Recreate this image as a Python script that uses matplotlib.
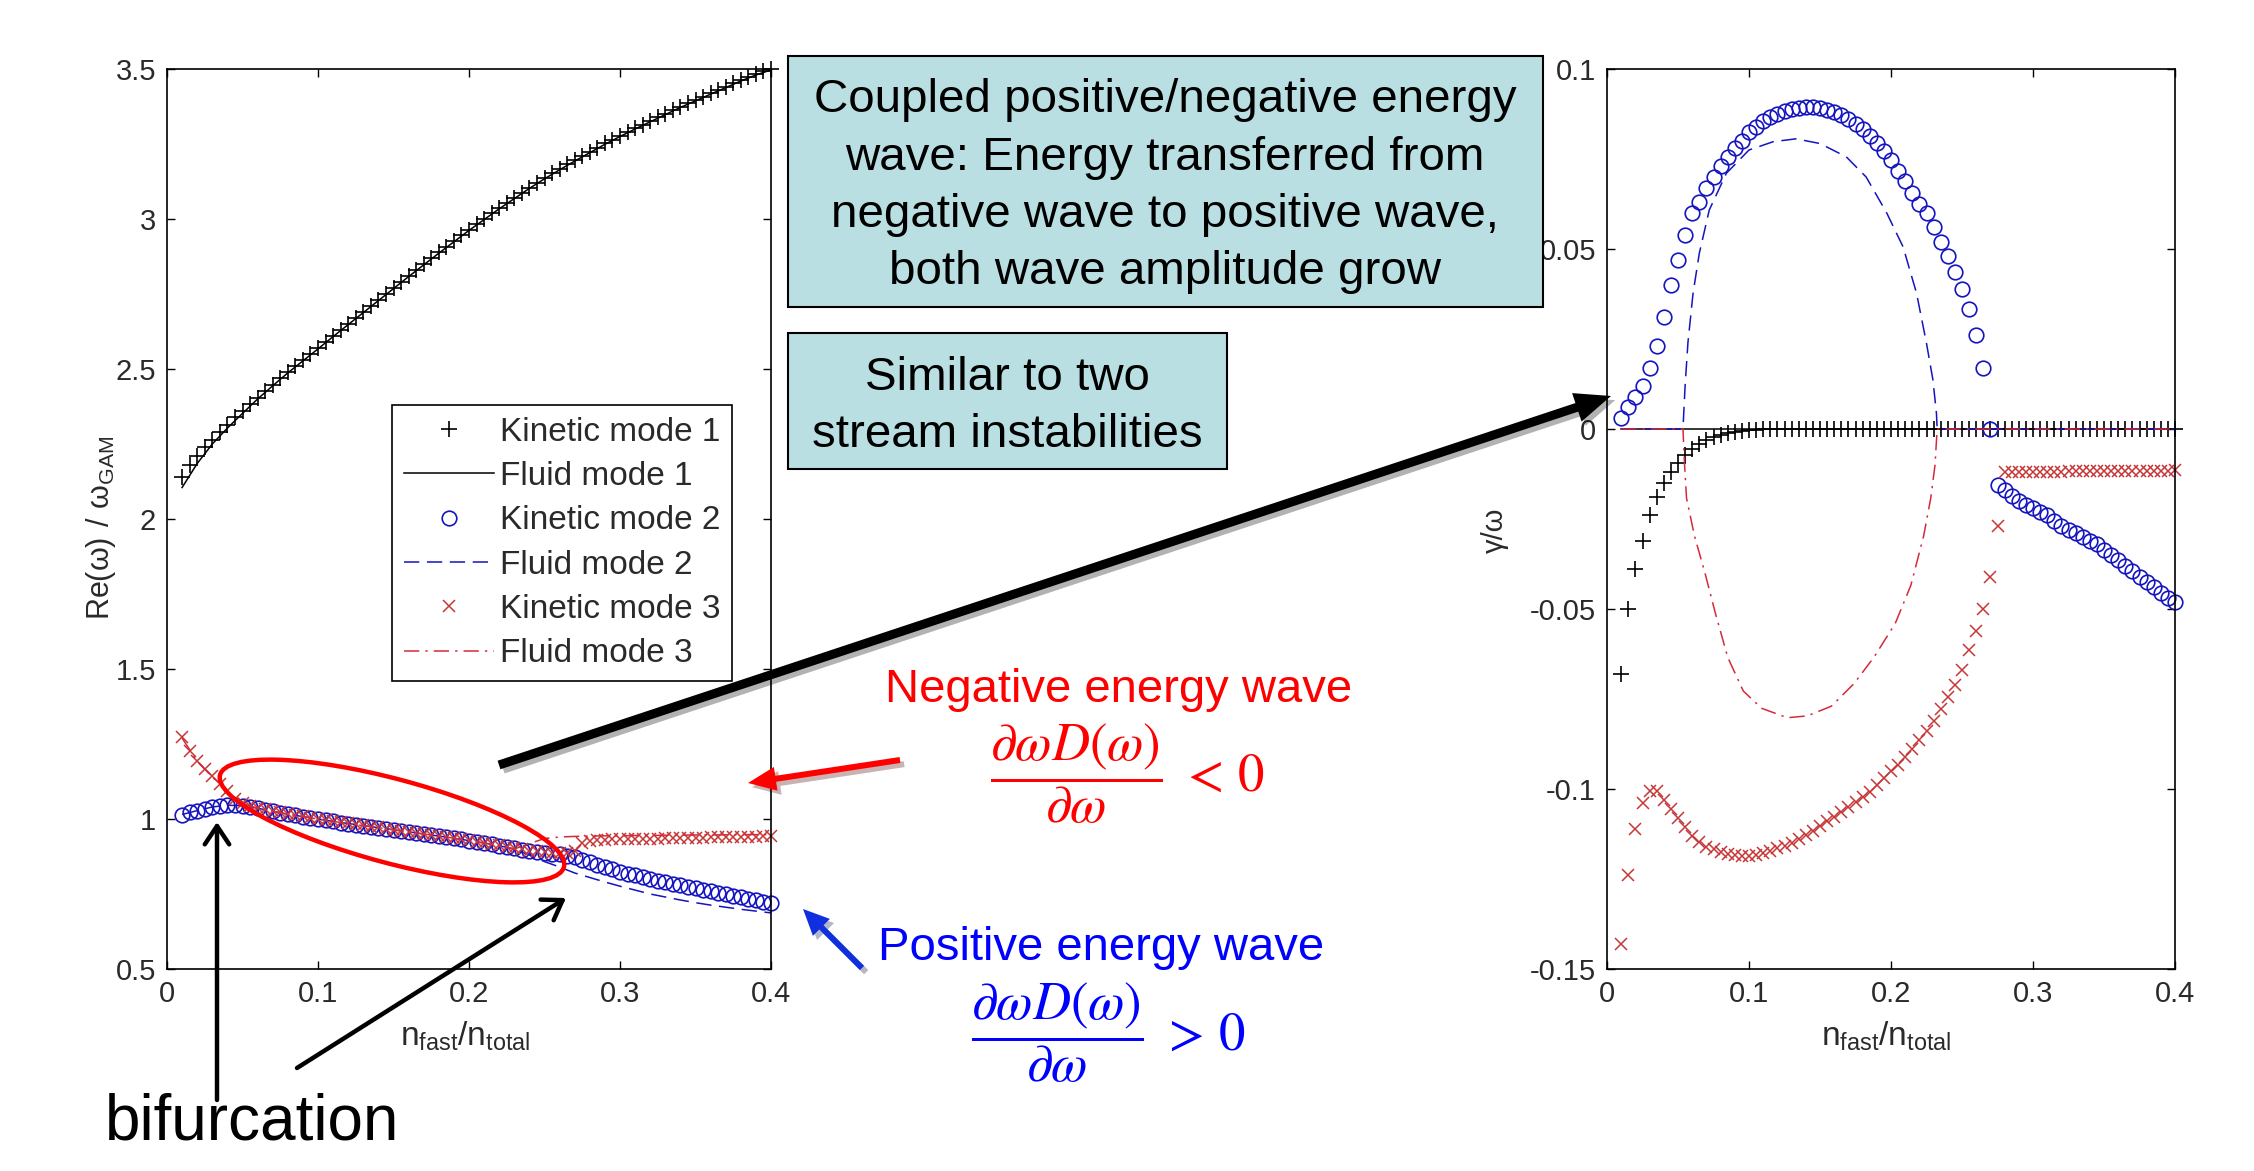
import numpy as np
import matplotlib
matplotlib.use('Agg')
import matplotlib.pyplot as plt
import matplotlib.patheffects as pe
from matplotlib.patches import Ellipse, Rectangle, FancyArrow

W, H, DPI = 2254, 1171, 100

# scan in fast-particle density fraction
frac_kin = np.round(np.arange(0.01, 0.4001, 0.005), 3)
frac_fluid = np.round(np.arange(0.01, 0.4001, 0.01), 2)

# ---- real frequency Re(w)/w_GAM ----
re_kin1 = [2.140, 2.180, 2.210, 2.240, 2.265, 2.290, 2.315, 2.340, 2.360, 2.382,
           2.404, 2.426, 2.448, 2.469, 2.490, 2.510, 2.530, 2.550, 2.570, 2.590,
           2.611, 2.631, 2.651, 2.671, 2.691, 2.711, 2.731, 2.751, 2.771, 2.791,
           2.811, 2.830, 2.850, 2.869, 2.889, 2.908, 2.927, 2.946, 2.965, 2.983,
           3.001, 3.019, 3.037, 3.054, 3.071, 3.088, 3.105, 3.121, 3.137, 3.152,
           3.167, 3.182, 3.196, 3.210, 3.224, 3.238, 3.252, 3.265, 3.278, 3.291,
           3.303, 3.315, 3.327, 3.339, 3.351, 3.363, 3.375, 3.386, 3.397, 3.408,
           3.419, 3.430, 3.441, 3.452, 3.463, 3.473, 3.483, 3.492, 3.500]
re_kin2 = [1.015, 1.022, 1.028, 1.034, 1.040, 1.045, 1.048, 1.047, 1.044, 1.040,
           1.036, 1.031, 1.026, 1.021, 1.016, 1.012, 1.008, 1.004, 1.000, 0.996,
           0.992, 0.988, 0.985, 0.981, 0.978, 0.974, 0.971, 0.967, 0.964, 0.960,
           0.957, 0.953, 0.950, 0.946, 0.943, 0.939, 0.936, 0.932, 0.928, 0.924,
           0.920, 0.916, 0.911, 0.907, 0.902, 0.898, 0.894, 0.891, 0.888, 0.885,
           0.882, 0.878, 0.872, 0.864, 0.856, 0.848, 0.840, 0.832, 0.825, 0.818,
           0.812, 0.806, 0.800, 0.795, 0.789, 0.784, 0.779, 0.774, 0.769, 0.764,
           0.759, 0.754, 0.749, 0.744, 0.739, 0.734, 0.729, 0.724, 0.719]
re_kin3 = [1.275, 1.228, 1.195, 1.168, 1.142, 1.116, 1.092, 1.068, 1.052, 1.042,
           1.037, 1.032, 1.027, 1.022, 1.017, 1.013, 1.009, 1.005, 1.001, 0.997,
           0.993, 0.989, 0.986, 0.982, 0.979, 0.975, 0.972, 0.968, 0.965, 0.961,
           0.958, 0.954, 0.951, 0.947, 0.944, 0.940, 0.937, 0.933, 0.929, 0.925,
           0.921, 0.917, 0.912, 0.908, 0.903, 0.899, 0.895, 0.892, 0.889, 0.887,
           0.886, 0.888, 0.895, 0.920, 0.928, 0.930, 0.931, 0.932, 0.933, 0.933,
           0.934, 0.934, 0.935, 0.935, 0.936, 0.936, 0.937, 0.937, 0.938, 0.938,
           0.939, 0.939, 0.940, 0.940, 0.940, 0.941, 0.941, 0.942, 0.942]

re_fluid1 = [2.105, 2.185, 2.250, 2.303, 2.352, 2.400, 2.444, 2.487, 2.527, 2.567,
             2.608, 2.648, 2.688, 2.728, 2.768, 2.808, 2.847, 2.886, 2.924, 2.962,
             2.998, 3.034, 3.068, 3.102, 3.134, 3.164, 3.193, 3.221, 3.249, 3.275,
             3.300, 3.324, 3.348, 3.372, 3.394, 3.416, 3.438, 3.460, 3.480, 3.497]
re_fluid2 = [1.015, 1.028, 1.040, 1.046, 1.044, 1.036, 1.026, 1.016, 1.008, 1.000,
             0.992, 0.985, 0.978, 0.971, 0.964, 0.957, 0.950, 0.943, 0.936, 0.928,
             0.920, 0.911, 0.900, 0.880, 0.858, 0.840, 0.820, 0.805, 0.790, 0.776,
             0.763, 0.750, 0.740, 0.730, 0.721, 0.713, 0.706, 0.699, 0.693, 0.687]
re_fluid3 = [1.270, 1.192, 1.140, 1.090, 1.052, 1.036, 1.026, 1.016, 1.008, 1.000,
             0.992, 0.985, 0.978, 0.971, 0.964, 0.957, 0.950, 0.943, 0.936, 0.928,
             0.920, 0.911, 0.900, 0.918, 0.935, 0.940, 0.942, 0.943, 0.944, 0.944,
             0.945, 0.945, 0.946, 0.946, 0.947, 0.947, 0.947, 0.948, 0.948, 0.948]

# ---- growth rate gamma/w ----
gam_kin1 = [-0.068, -0.050, -0.039, -0.031, -0.024, -0.019, -0.015, -0.012, -0.0095, -0.0073,
            -0.0056, -0.0042, -0.0031, -0.0023, -0.0017, -0.0012, -0.0008, -0.0005, -0.0003, -0.0002,
            -0.0001, 0.0, 0.0, 0.0, 0.0, 0.0, 0.0, 0.0, 0.0, 0.0,
            0.0, 0.0, 0.0, 0.0, 0.0, 0.0, 0.0, 0.0, 0.0, 0.0,
            0.0, 0.0, 0.0, 0.0, 0.0, 0.0, 0.0, 0.0, 0.0, 0.0,
            0.0, 0.0, 0.0, 0.0, 0.0, 0.0, 0.0, 0.0, 0.0, 0.0,
            0.0, 0.0, 0.0, 0.0, 0.0, 0.0, 0.0, 0.0, 0.0, 0.0,
            0.0, 0.0, 0.0, 0.0, 0.0, 0.0, 0.0, 0.0, 0.0]
gam_kin2 = [0.003, 0.006, 0.009, 0.012, 0.017, 0.023, 0.031, 0.040, 0.047, 0.054,
            0.060, 0.063, 0.067, 0.070, 0.073, 0.0755, 0.078, 0.080, 0.0825, 0.084,
            0.0855, 0.0866, 0.0875, 0.0883, 0.0889, 0.0893, 0.0895, 0.0895, 0.0892, 0.0887,
            0.0880, 0.0871, 0.0860, 0.0847, 0.0832, 0.0815, 0.0795, 0.0773, 0.0748, 0.0718,
            0.0690, 0.0655, 0.0625, 0.0600, 0.0560, 0.0520, 0.0480, 0.0437, 0.0390, 0.0333,
            0.026, 0.017, 0.0, -0.0155, -0.017, -0.0185, -0.020, -0.021, -0.022, -0.023,
            -0.024, -0.0255, -0.027, -0.028, -0.029, -0.030, -0.031, -0.032, -0.0335, -0.035,
            -0.0365, -0.038, -0.0395, -0.041, -0.0425, -0.044, -0.0455, -0.047, -0.048]
gam_kin3 = [-0.143, -0.124, -0.111, -0.104, -0.1005, -0.1005, -0.103, -0.1055, -0.108, -0.1105,
            -0.113, -0.1148, -0.116, -0.1168, -0.1175, -0.118, -0.1183, -0.1185, -0.1185, -0.1183,
            -0.1178, -0.1172, -0.1165, -0.1158, -0.115, -0.114, -0.1128, -0.1116, -0.1103, -0.109,
            -0.1077, -0.1065, -0.105, -0.1037, -0.1022, -0.1008, -0.099, -0.097, -0.095, -0.0932,
            -0.091, -0.0888, -0.0865, -0.0838, -0.081, -0.0778, -0.0745, -0.071, -0.067, -0.0615,
            -0.056, -0.050, -0.041, -0.027, -0.012, -0.012, -0.012, -0.012, -0.012, -0.012,
            -0.0119, -0.0119, -0.0119, -0.0118, -0.0118, -0.0118, -0.0118, -0.0117, -0.0117, -0.0117,
            -0.0117, -0.0117, -0.0116, -0.0116, -0.0116, -0.0116, -0.0116, -0.0116, -0.0115]

gam_fluid1_x = [0.01, 0.40]
gam_fluid1 = [0.0, 0.0]
gam_fluid2_x = [0.010, 0.0535, 0.055, 0.057, 0.0606, 0.065, 0.072, 0.084, 0.100, 0.117, 0.133,
                0.150, 0.1685, 0.1825, 0.197, 0.2085, 0.218, 0.225, 0.2295, 0.232, 0.2325, 0.400]
gam_fluid2 = [0.0, 0.0, 0.012, 0.024, 0.0377, 0.0488, 0.0608, 0.071, 0.0775, 0.0798, 0.0806,
              0.0793, 0.0756, 0.070, 0.060, 0.0506, 0.0377, 0.0238, 0.0137, 0.0044, 0.0, 0.0]
gam_fluid3_x = [0.010, 0.0535, 0.0545, 0.056, 0.0616, 0.069, 0.076, 0.085, 0.096, 0.109, 0.127,
                0.141, 0.158, 0.174, 0.188, 0.203, 0.214, 0.223, 0.228, 0.231, 0.2325, 0.400]
gam_fluid3 = [0.0, 0.0, -0.009, -0.0192, -0.0297, -0.040, -0.0507, -0.0634, -0.0728, -0.0776, -0.0802,
              -0.0797, -0.077, -0.0707, -0.0634, -0.054, -0.0434, -0.0297, -0.0192, -0.010, 0.0, 0.0]

legend_labels = ['Kinetic mode 1', 'Fluid mode 1', 'Kinetic mode 2',
                 'Fluid mode 2', 'Kinetic mode 3', 'Fluid mode 3']

plt.rcParams['font.family'] = ['Liberation Sans', 'DejaVu Sans']

BLUE = '#1414C0'
RED = '#C83737'
RED_LINE = '#D42A3C'
TICK_COL = '#2a2a2a'

k1_style = dict(ls='none', marker='+', color='k', ms=11, mew=1.2, clip_on=False)
k2_style = dict(ls='none', marker='o', mfc='none', mec=BLUE, color=BLUE, ms=10.5, mew=1.2, clip_on=False)
k3_style = dict(ls='none', marker='x', color=RED, ms=8, mew=1.1, clip_on=False)
f1_style = dict(ls='-', color='k', lw=1.1)
f2_style = dict(ls=(0, (10, 5)), color=BLUE, lw=1.1)
f3_style = dict(ls=(0, (10, 4, 1.5, 4)), color=RED_LINE, lw=1.1)


def px_rect(x0, x1, y_top, y_bot):
    return [x0 / W, 1 - y_bot / H, (x1 - x0) / W, (y_bot - y_top) / H]


def matlab_look(ax):
    ax.tick_params(direction='in', length=6, width=1.0, top=True, right=True,
                   labelsize=21, labelcolor=TICK_COL, pad=8)
    for s in ax.spines.values():
        s.set_linewidth(1.2)
        s.set_color('k')


fig = plt.figure(figsize=(W / DPI, H / DPI), dpi=DPI)
fig.patch.set_facecolor('white')

# left panel: real frequency
ax1 = fig.add_axes(px_rect(167, 771, 69, 969))
h1, = ax1.plot(frac_kin, re_kin1, **k1_style)
h2, = ax1.plot(frac_fluid, re_fluid1, **f1_style)
h3, = ax1.plot(frac_kin, re_kin2, **k2_style)
h4, = ax1.plot(frac_fluid, re_fluid2, **f2_style)
h5, = ax1.plot(frac_kin, re_kin3, **k3_style)
h6, = ax1.plot(frac_fluid, re_fluid3, **f3_style)
ax1.set_xlim(0, 0.4)
ax1.set_ylim(0.5, 3.5)
ax1.set_xticks([0, 0.1, 0.2, 0.3, 0.4])
ax1.set_xticklabels(['0', '0.1', '0.2', '0.3', '0.4'])
ax1.set_yticks([0.5, 1, 1.5, 2, 2.5, 3, 3.5])
ax1.set_yticklabels(['0.5', '1', '1.5', '2', '2.5', '3', '3.5'])
matlab_look(ax1)
ax1.set_xlabel(r'$\mathregular{n_{fast}/n_{total}}$', fontsize=24, color=TICK_COL)
ax1.xaxis.set_label_coords(0.493, -0.056)
ax1.set_ylabel(r'$\mathregular{Re(ω)\ /\ ω_{GAM}}$', fontsize=22, color=TICK_COL)
ax1.yaxis.set_label_coords(-0.081, 0.49)

leg = ax1.legend([h1, h2, h3, h4, h5, h6], legend_labels, loc='upper left',
                 bbox_to_anchor=(0.3725, 0.6267), borderaxespad=0, fontsize=24,
                 frameon=True, fancybox=False, framealpha=1, edgecolor='k',
                 handlelength=2.7, handletextpad=0.2, labelspacing=0.4,
                 borderpad=0.35, numpoints=1)
leg.get_frame().set_linewidth(1.2)
for t in leg.get_texts():
    t.set_color(TICK_COL)

# right panel: growth rate
ax2 = fig.add_axes(px_rect(1607, 2175, 69, 969))
ax2.plot(frac_kin, gam_kin1, **k1_style)
ax2.plot(gam_fluid1_x, gam_fluid1, **f1_style)
ax2.plot(frac_kin, gam_kin2, **k2_style)
ax2.plot(gam_fluid2_x, gam_fluid2, **f2_style)
ax2.plot(frac_kin, gam_kin3, **k3_style)
ax2.plot(gam_fluid3_x, gam_fluid3, **f3_style)
ax2.set_xlim(0, 0.4)
ax2.set_ylim(-0.15, 0.1)
ax2.set_xticks([0, 0.1, 0.2, 0.3, 0.4])
ax2.set_xticklabels(['0', '0.1', '0.2', '0.3', '0.4'])
ax2.set_yticks([-0.15, -0.1, -0.05, 0, 0.05, 0.1])
ax2.set_yticklabels(['-0.15', '-0.1', '-0.05', '0', '0.05', '0.1'])
matlab_look(ax2)
ax2.set_xlabel(r'$\mathregular{n_{fast}/n_{total}}$', fontsize=24, color=TICK_COL)
ax2.xaxis.set_label_coords(0.491, -0.056)
ax2.set_ylabel('γ/ω', fontsize=21, color=TICK_COL)
ax2.yaxis.set_label_coords(-0.1725, 0.488)

# overlay in figure pixels for the slide annotations
ov = fig.add_axes([0, 0, 1, 1])
ov.set_xlim(0, W)
ov.set_ylim(H, 0)
ov.axis('off')
ov.patch.set_visible(False)

BOX_FILL = '#B9DFE2'
box1_lines = ['Coupled positive/negative energy', 'wave: Energy transferred from',
              'negative wave to positive wave,', 'both wave amplitude grow']
box2_lines = ['Similar to two', 'stream instabilities']

ov.add_patch(Rectangle((788, 56), 755, 251, facecolor=BOX_FILL, edgecolor='k', lw=1.5))
for i, line in enumerate(box1_lines):
    ov.text(1165, 112 + 57.5 * i, line, ha='center', va='baseline', fontsize=34.2)
ov.add_patch(Rectangle((788, 333), 439, 136, facecolor=BOX_FILL, edgecolor='k', lw=1.5))
for i, line in enumerate(box2_lines):
    ov.text(1007, 390 + 57 * i, line, ha='center', va='baseline', fontsize=34.2)

shadow = [pe.SimplePatchShadow(offset=(3, -3), alpha=0.3), pe.Normal()]

main_arrow = FancyArrow(499, 765, 1112, -369, width=9, head_width=30, head_length=36,
                        length_includes_head=True, color='k', lw=0)
main_arrow.set_path_effects(shadow)
ov.add_patch(main_arrow)

red_arrow = FancyArrow(900, 760, -152, 23, width=6, head_width=24, head_length=28,
                       length_includes_head=True, color='#FF0000', lw=0)
red_arrow.set_path_effects(shadow)
ov.add_patch(red_arrow)

blue_arrow = FancyArrow(862, 968, -59, -59, width=6, head_width=24, head_length=26,
                        length_includes_head=True, color='#1030E0', lw=0)
blue_arrow.set_path_effects(shadow)
ov.add_patch(blue_arrow)

open_head = dict(arrowstyle='->,head_length=0.6,head_width=0.4', lw=3.2, color='k',
                 shrinkA=0, shrinkB=0, mutation_scale=22)
ov.annotate('', xy=(217, 822), xytext=(217, 1100), xycoords='data', arrowprops=open_head)
ov.annotate('', xy=(566, 898), xytext=(297, 1068), xycoords='data', arrowprops=open_head)

ov.add_patch(Ellipse((392, 821), width=356, height=84, angle=15, fill=False,
                     edgecolor='#FF0000', lw=3.2))

ov.text(252, 1140, 'bifurcation', ha='center', va='baseline', fontsize=46)

ov.text(1119, 702, 'Negative energy wave', ha='center', va='baseline',
        fontsize=34, color='#FF0000')
ov.text(990, 792, r'$\dfrac{\partial\omega D(\omega)}{\partial\omega}\ <\,0$',
        ha='left', va='baseline', fontsize=38, color='#FF0000', math_fontfamily='stix')

ov.text(1101, 960, 'Positive energy wave', ha='center', va='baseline',
        fontsize=34, color='#0000FF')
ov.text(971, 1051, r'$\dfrac{\partial\omega D(\omega)}{\partial\omega}\ >\,0$',
        ha='left', va='baseline', fontsize=38, color='#0000FF', math_fontfamily='stix')

fig.savefig('out.png', dpi=DPI, facecolor='white')
